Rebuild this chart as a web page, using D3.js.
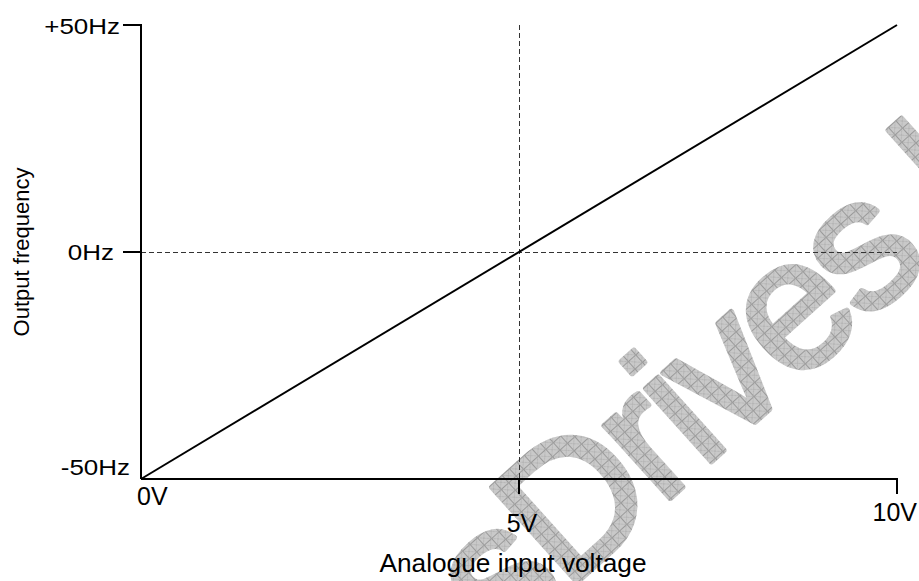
<!DOCTYPE html>
<html><head><meta charset="utf-8">
<script src="https://cdn.jsdelivr.net/npm/d3@7/dist/d3.min.js"></script>
<style>body{margin:0;background:#fff}svg{display:block}</style>
</head><body>
<svg id="c" width="919" height="581"></svg>
<script>
// ---- data ----
const voltage = [0, 10];            // analogue input voltage (V)
const frequency = [-50, 50];        // output frequency (Hz)
const xTicks = [0, 5, 10];
const xTickLabels = ["0V", "5V", "10V"];
const yTicks = [-50, 0, 50];
const yTickLabels = ["-50Hz", "0Hz", "+50Hz"];
const xTitle = "Analogue input voltage";
const yTitle = "Output frequency";
const watermarkBefore = "Techniques ";
const watermarkAfter = "Drives Ltd";

const svg = d3.select("#c");
const x = d3.scaleLinear().domain([0, 10]).range([141, 897]);
const y = d3.scaleLinear().domain([-50, 50]).range([479, 25]);
const font = "'Liberation Sans', Arial, sans-serif";

// pattern for watermark
const defs = svg.append("defs");
const pat = defs.append("pattern").attr("id", "hatch").attr("patternUnits", "userSpaceOnUse")
  .attr("width", 10).attr("height", 10);
pat.append("rect").attr("width", 10).attr("height", 10).attr("fill", "#c9c9c9");
pat.append("path").attr("d", "M0,0.5H10M0.5,0V10").attr("stroke", "#8e8e8e").attr("stroke-width", 0.8);
pat.append("path").attr("d", "M0,0L10,10M10,0L0,10").attr("stroke", "#a8a8a8").attr("stroke-width", 0.6);

// watermark
const wm = svg.append("g").attr("transform", "translate(566,592) rotate(-42)")
  .attr("font-family", font).attr("font-size", 185).attr("letter-spacing", -6)
  .attr("fill", "url(#hatch)").attr("stroke", "url(#hatch)").attr("stroke-width", 6).attr("stroke-linejoin", "round");
wm.append("text").attr("text-anchor", "end").text(watermarkBefore);
wm.append("text").attr("text-anchor", "start").text(watermarkAfter);

// dashed reference lines
svg.append("line").attr("x1", x(0)).attr("x2", x(10)).attr("y1", y(0)).attr("y2", y(0))
  .attr("stroke", "#333").attr("stroke-width", 1).attr("stroke-dasharray", "5,3").attr("shape-rendering", "crispEdges");
svg.append("line").attr("x1", x(5)).attr("x2", x(5)).attr("y1", y(50)).attr("y2", y(-50))
  .attr("stroke", "#333").attr("stroke-width", 1).attr("stroke-dasharray", "5,3").attr("shape-rendering", "crispEdges");

// axes
const ax = svg.append("g").attr("stroke", "#000").attr("stroke-width", 2);
ax.append("line").attr("x1", x(0)).attr("x2", x(0)).attr("y1", y(50) - 1).attr("y2", y(-50));
ax.append("line").attr("x1", x(0)).attr("x2", x(10) + 1).attr("y1", y(-50)).attr("y2", y(-50));
yTicks.filter(d => d > -50).forEach(d => {
  ax.append("line").attr("x1", x(0) - 18).attr("x2", x(0)).attr("y1", y(d)).attr("y2", y(d));
});
xTicks.filter(d => d > 0).forEach(d => {
  ax.append("line").attr("x1", x(d)).attr("x2", x(d)).attr("y1", y(-50)).attr("y2", y(-50) + 15);
});

// main line
const pts = voltage.map((v, i) => [v, frequency[i]]);
svg.append("path").datum(pts)
  .attr("d", d3.line().x(d => x(d[0])).y(d => y(d[1])))
  .attr("fill", "none").attr("stroke", "#000").attr("stroke-width", 2);

// y tick labels
const yLab = svg.append("g").attr("font-family", font).attr("font-size", 22).attr("fill", "#000");
const yOff = {"-50": [-11, -4], "0": [-27, 8], "50": [-21, 9]};
yTicks.forEach((d, i) => {
  const o = yOff[String(d)];
  yLab.append("text").attr("text-anchor", "end")
    .attr("transform", `translate(${x(0) + o[0]},${y(d) + o[1]}) scale(1.18,1)`)
    .text(yTickLabels[i]);
});

// x tick labels
const xLab = svg.append("g").attr("font-family", font).attr("font-size", 25).attr("fill", "#000");
const xAnchor = ["start", "middle", "end"];
const xOff = [[-4, 26], [3, 53], [20, 42]];
xTicks.forEach((d, i) => {
  xLab.append("text").attr("text-anchor", xAnchor[i])
    .attr("x", x(d) + xOff[i][0]).attr("y", y(-50) + xOff[i][1]).text(xTickLabels[i]);
});

// titles
svg.append("text").attr("font-family", font).attr("font-size", 25).attr("text-anchor", "middle")
  .attr("transform", "translate(513,572) scale(1.05,1)").text(xTitle);
svg.append("text").attr("font-family", font).attr("font-size", 22).attr("text-anchor", "middle")
  .attr("transform", "translate(29,252) rotate(-90)").text(yTitle);
</script>
</body></html>
